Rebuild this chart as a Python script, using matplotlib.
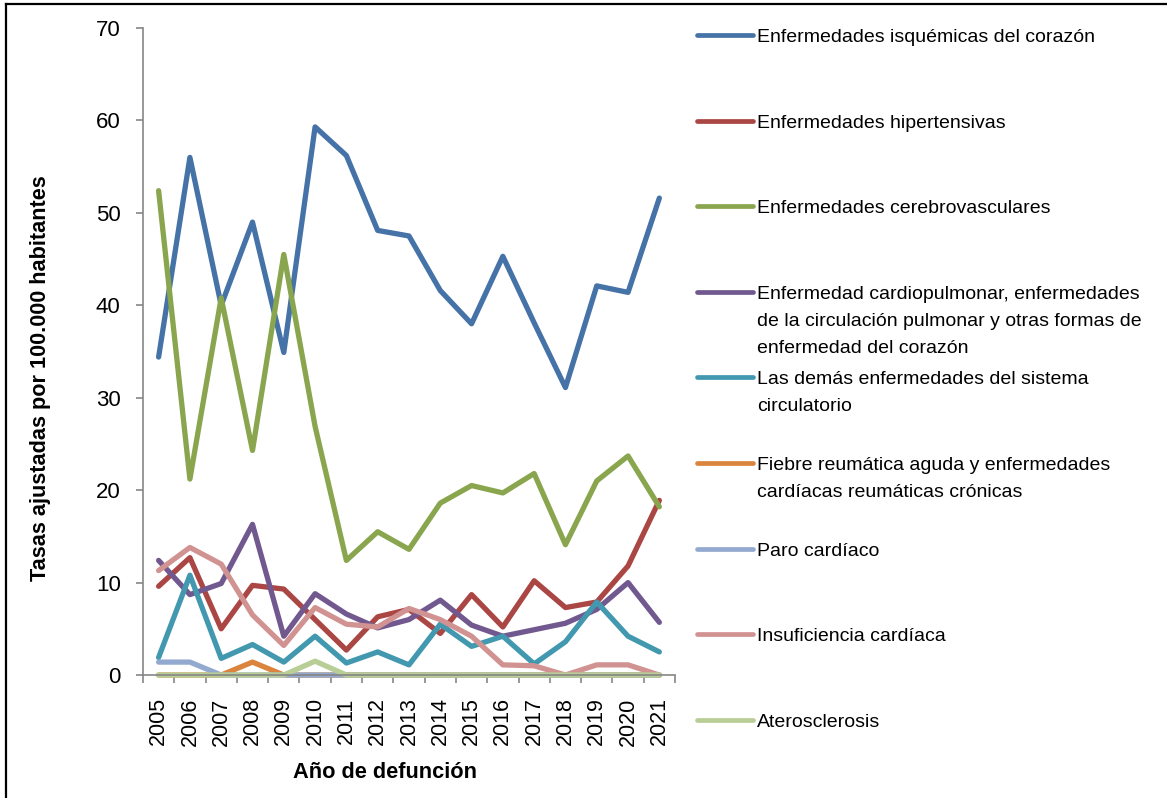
#%%
# Tasas ajustadas de mortalidad por enfermedades del sistema circulatorio, 2005-2021

# IMPORTS #######################################

import matplotlib
matplotlib.use('Agg')
import matplotlib.pyplot as plt
from matplotlib.lines import Line2D

# DATA ##########################################

years = [str(y) for y in range(2005, 2022)]

isquemicas = [34.4, 56.0, 40.0, 49.0, 34.9, 59.3, 56.2, 48.1, 47.5, 41.6,
              38.0, 45.3, 38.1, 31.1, 42.1, 41.4, 51.6]
hipertensivas = [9.6, 12.7, 5.0, 9.7, 9.3, 6.0, 2.7, 6.3, 7.1, 4.5,
                 8.7, 5.2, 10.2, 7.3, 7.9, 11.8, 18.9]
cerebrovasculares = [52.4, 21.2, 40.8, 24.3, 45.5, 26.9, 12.4, 15.5, 13.6, 18.6,
                     20.5, 19.7, 21.8, 14.1, 21.0, 23.7, 18.2]
cardiopulmonar = [12.4, 8.7, 9.9, 16.3, 4.2, 8.8, 6.6, 5.1, 6.0, 8.1,
                  5.4, 4.2, 4.9, 5.6, 7.1, 10.0, 5.7]
demas_circulatorio = [1.9, 10.8, 1.8, 3.3, 1.4, 4.2, 1.3, 2.5, 1.1, 5.5,
                      3.1, 4.2, 1.2, 3.6, 7.9, 4.2, 2.5]
fiebre_reumatica = [0, 0, 0, 1.4, 0, 0, 0, 0, 0, 0,
                    0, 0, 0, 0, 0, 0, 0]
paro_cardiaco = [1.4, 1.4, 0, 0, 0, 0, 0, 0, 0, 0,
                 0, 0, 0, 0, 0, 0, 0]
insuficiencia = [11.3, 13.8, 12.0, 6.5, 3.2, 7.3, 5.5, 5.2, 7.2, 6.0,
                 4.2, 1.1, 1.0, 0, 1.1, 1.1, 0]
aterosclerosis = [0, 0, 0, 0, 0, 1.5, 0, 0, 0, 0,
                  0, 0, 0, 0, 0, 0, 0]

series = [isquemicas, hipertensivas, cerebrovasculares, cardiopulmonar,
          demas_circulatorio, fiebre_reumatica, paro_cardiaco,
          insuficiencia, aterosclerosis]

labels = [
    'Enfermedades isquémicas del corazón',
    'Enfermedades hipertensivas',
    'Enfermedades cerebrovasculares',
    'Enfermedad cardiopulmonar, enfermedades\nde la circulación pulmonar y otras formas de\nenfermedad del corazón',
    'Las demás enfermedades del sistema\ncirculatorio',
    'Fiebre reumática aguda y enfermedades\ncardíacas reumáticas crónicas',
    'Paro cardíaco',
    'Insuficiencia cardíaca',
    'Aterosclerosis',
]

colors = ['#4572A7', '#AA4643', '#89A54E', '#71588F', '#4198AF',
          '#DB843D', '#93A9CF', '#D19392', '#B9CD96']

# SETUP #########################################

plt.rcParams.update({
    'font.family': ['Liberation Sans', 'DejaVu Sans'],
    'font.size': 14,
})
axis_grey = '#868686'

# FIGURE ########################################

fig = plt.figure(figsize=(11.67, 7.98), dpi=100)
ax = fig.add_axes([0.1225, 0.1541, 0.4559, 0.8108])

# PLOTTING ###################

x = list(range(len(years)))
for values, color, label in zip(series, colors, labels):
    ax.plot(x, values, color=color, linewidth=3.8, label=label,
            solid_capstyle='round', solid_joinstyle='round', clip_on=False)

# AXIS LIMITS ################

ax.set_ylim(0, 70)
ax.set_xlim(-0.5, len(years) - 0.5)

# TICKS AND LABELS ###########

ax.set_yticks(range(0, 71, 10))
ax.set_xticks(x)
ax.set_xticklabels(years, rotation=90, va='top', ha='center')
ax.set_xticks([i - 0.5 for i in range(len(years) + 1)], minor=True)

ax.tick_params(axis='x', which='major', length=0, pad=16, labelsize=15.5)
ax.tick_params(axis='x', which='minor', length=6, width=1.2, color=axis_grey, direction='out')
ax.tick_params(axis='y', length=5, width=1.2, color=axis_grey, direction='out',
               pad=11, labelsize=16)

for side in ['top', 'right']:
    ax.spines[side].set_visible(False)
for side in ['left', 'bottom']:
    ax.spines[side].set_color(axis_grey)
    ax.spines[side].set_linewidth(1.2)

# AXIS LABELS ################

ax.set_xlabel('Año de defunción', fontweight='bold', fontsize=15.7)
ax.xaxis.set_label_coords(0.455, -0.135)
ax.set_ylabel('Tasas ajustadas por 100.000 habitantes', fontweight='bold', fontsize=15.6)
ax.yaxis.set_label_coords(-0.172, 0.459)

# LEGEND ####################

W, H = fig.get_size_inches() * fig.dpi
entry_top = 35
entry_step = 85.6
line_step = 27
for i, (color, label) in enumerate(zip(colors, labels)):
    y = entry_top + i * entry_step
    fig.add_artist(Line2D([697 / W, 753 / W], [1 - y / H, 1 - y / H],
                          color=color, linewidth=3.4, solid_capstyle='round'))
    for k, row in enumerate(label.split('\n')):
        fig.text(757 / W, 1 - (y + 7 + k * line_step) / H, row,
                 fontsize=14, va='baseline', ha='left')

# frame around the chart area
fig.add_artist(Line2D([6 / W, 1], [1 - 4 / H, 1 - 4 / H], color='black', linewidth=1.6))
fig.add_artist(Line2D([6 / W, 6 / W], [0, 1 - 4 / H], color='black', linewidth=1.6))

# EXPORT #########################################

fig.savefig('out.png', dpi=100, facecolor='white')
# %%
